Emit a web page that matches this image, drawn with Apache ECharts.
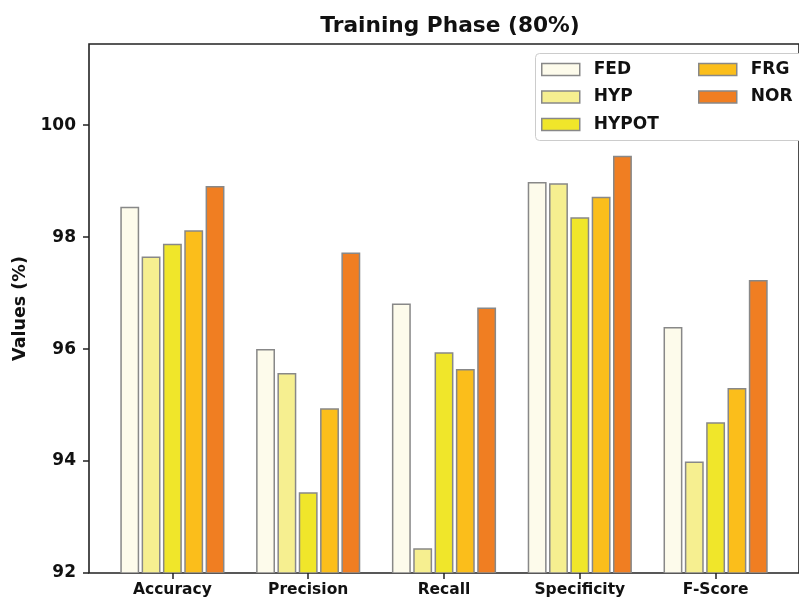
<!DOCTYPE html>
<html>
<head>
<meta charset="utf-8">
<script src="https://cdn.jsdelivr.net/npm/echarts@6/dist/echarts.min.js"></script>
<style>
  html, body { margin: 0; padding: 0; background: #fff; }
  #chart { width: 799px; height: 602px; }
</style>
</head>
<body>
<div id="chart"></div>
<script>
const categories = ['Accuracy', 'Precision', 'Recall', 'Specificity', 'F-Score'];
const models = ['FED', 'HYP', 'HYPOT', 'FRG', 'NOR'];

const fedValues = [98.53, 95.99, 96.80, 98.97, 96.38];
const hypValues = [97.64, 95.56, 92.43, 98.95, 93.98];
const hypotValues = [97.87, 93.43, 95.93, 98.34, 94.68];
const frgValues = [98.11, 94.93, 95.63, 98.71, 95.29];
const norValues = [98.90, 97.71, 96.73, 99.44, 97.22];

const yTicks = [92, 94, 96, 98, 100];

const colors = ['#fdfbeb', '#f6ef90', '#f0e62a', '#fbbe1b', '#f07e22'];
const allValues = [fedValues, hypValues, hypotValues, frgValues, norValues];

// bar layout in category units (matplotlib style grouped bars)
const barStep = 0.157;
const barW = 0.128;
const yMin = 92;

const labelFont = {
  color: '#111',
  fontFamily: 'DejaVu Sans',
  fontWeight: 'bold',
  fontSize: 15.5
};

function renderBar(seriesIdx) {
  const offset = (seriesIdx - 2) * barStep;
  return function (params, api) {
    const x = api.value(0) + offset;
    const p1 = api.coord([x - barW / 2, api.value(1)]);
    const p2 = api.coord([x + barW / 2, yMin]);
    return {
      type: 'rect',
      shape: { x: p1[0], y: p1[1], width: p2[0] - p1[0], height: p2[1] - p1[1] },
      style: api.style()
    };
  };
}

const chart = echarts.init(document.getElementById('chart'), null, { renderer: 'canvas' });

const legendCommon = {
  orient: 'vertical',
  top: 61,
  padding: 0,
  itemWidth: 38,
  itemHeight: 12,
  itemGap: 10.5,
  icon: 'rect',
  itemStyle: { borderColor: '#888', borderWidth: 1.5 },
  textStyle: { ...labelFont, fontSize: 17, lineHeight: 17, padding: [0, 0, 0, 9] }
};

chart.setOption({
  animation: false,
  title: {
    text: 'Training Phase (80%)',
    left: 445,
    textAlign: 'center',
    top: 10,
    textStyle: { ...labelFont, fontSize: 21.7 }
  },
  grid: {
    left: 89,
    top: 44,
    bottom: 29,
    right: -13,
    show: true,
    borderColor: '#222',
    borderWidth: 1.6
  },
  graphic: [{
    type: 'rect',
    left: 535,
    top: 53,
    shape: { width: 290, height: 87, r: 4 },
    style: { fill: '#fff', stroke: '#ccc', lineWidth: 1 },
    z: 10
  }],
  legend: [
    { ...legendCommon, left: 541, data: models.slice(0, 3), z: 20 },
    { ...legendCommon, left: 698, data: models.slice(3), z: 20 }
  ],
  xAxis: {
    type: 'value',
    min: -0.614,
    max: 4.614,
    splitLine: { show: false },
    axisLine: { show: false, onZero: false },
    axisTick: {
      show: true,
      customValues: [0, 1, 2, 3, 4],
      length: 6,
      lineStyle: { color: '#222', width: 1.5 }
    },
    axisLabel: {
      ...labelFont,
      customValues: [0, 1, 2, 3, 4],
      margin: 9,
      formatter: v => categories[Math.round(v)]
    }
  },
  yAxis: {
    type: 'value',
    min: 92,
    max: 101.45,
    name: 'Values (%)',
    nameLocation: 'middle',
    nameGap: 58,
    nameTextStyle: { ...labelFont, fontSize: 17.5 },
    splitLine: { show: false },
    axisLine: { show: false, onZero: false },
    axisTick: {
      show: true,
      customValues: yTicks,
      length: 6,
      lineStyle: { color: '#222', width: 1.5 }
    },
    axisLabel: {
      ...labelFont,
      fontSize: 17,
      customValues: yTicks,
      margin: 13
    }
  },
  series: models.map((name, s) => ({
    type: 'custom',
    name,
    renderItem: renderBar(s),
    itemStyle: { color: colors[s], borderColor: '#888', borderWidth: 1.5 },
    encode: { x: 0, y: 1 },
    data: allValues[s].map((v, i) => [i, v]),
    clip: true
  }))
});
</script>
</body>
</html>
